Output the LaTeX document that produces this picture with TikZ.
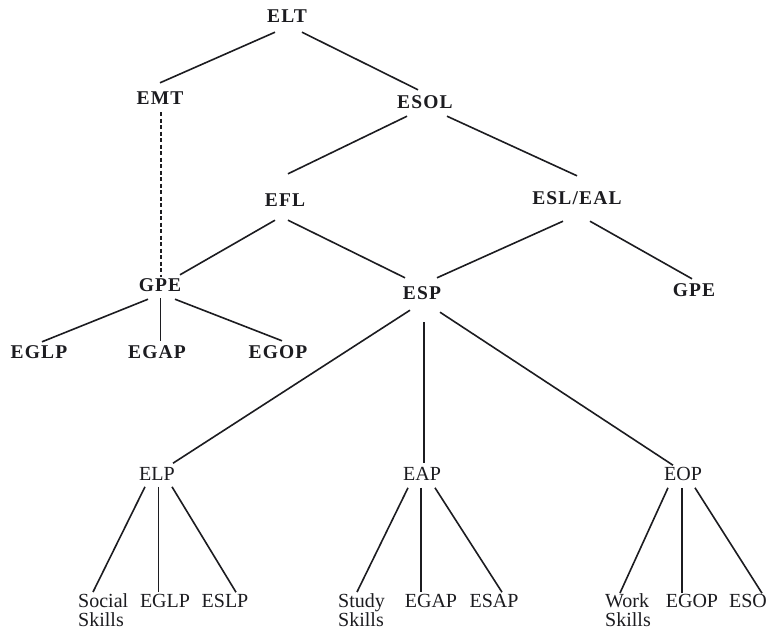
\documentclass[tikz,border=0pt]{standalone}
\usepackage{fontspec}
\setmainfont{Liberation Serif}
\newfontfamily\topfont[LetterSpace=6]{Liberation Serif}
\definecolor{ink}{RGB}{28,28,32}
\tikzset{
  topl/.style={inner sep=0pt, text height=13pt, text depth=0pt, font=\topfont\fontsize{19.5}{19.5}\selectfont\bfseries, text=ink},
  botl/.style={inner sep=0pt, text height=13.2pt, text depth=0pt, font=\fontsize{20}{20}\selectfont, text=ink},
  twol/.style={inner sep=0pt, align=left, anchor=north west, font=\fontsize{20}{19.5}\selectfont, text=ink},
  edge/.style={draw=ink, line width=1.6pt},
  thinedge/.style={draw=ink, line width=1pt},
  thickedge/.style={draw=ink, line width=2.8pt},
  dashedge/.style={draw=ink, line width=1.5pt, dash pattern=on 4pt off 2.5pt}
}
\begin{document}
\begin{tikzpicture}[x=1pt,y=-1pt]
\fill[white] (0,0) rectangle (769,633);
\useasboundingbox (0,0) rectangle (769,633);
% upper tree
\node[topl] (elt) at (287,16) {ELT};
\node[topl] (emt) at (160,98) {EMT};
\node[topl] (esol) at (425,102) {ESOL};
\node[topl] (efl) at (285,200) {EFL};
\node[topl] (esleal) at (577,198) {ESL/EAL};
\node[topl] (gpea) at (160,285) {GPE};
\node[topl] (esp) at (422,293) {ESP};
\node[topl] (gpeb) at (694,290) {GPE};
\node[topl] (eglpa) at (39,352) {EGLP};
\node[topl] (egapa) at (157,352) {EGAP};
\node[topl] (egopa) at (278,352) {EGOP};
% lower tree
\node[botl] (elp) at (157,474) {ELP};
\node[botl] (eap) at (422,474) {EAP};
\node[botl] (eop) at (683,474) {EOP};
\node[twol] (social) at (78,593) {Social\\Skills};
\node[botl] (eglpb) at (165,601) {EGLP};
\node[botl] (eslp) at (225,601) {ESLP};
\node[twol] (study) at (338,593) {Study\\Skills};
\node[botl] (egapb) at (431,601) {EGAP};
\node[botl] (esap) at (494,601) {ESAP};
\node[twol] (work) at (605,593) {Work\\Skills};
\node[botl] (egopb) at (692,601) {EGOP};
\node[botl] (eso) at (748,601) {ESO};
% connectors
\draw[edge] ([shift={(-12,9.5)}]elt.south) -- ([shift={(0,-8.5)}]emt.north);
\draw[edge] ([shift={(15,9.5)}]elt.south) -- ([shift={(-7,-5.5)}]esol.north);
\draw[dashedge] ([shift={(1,7.5)}]emt.south) -- ([shift={(1,-1.5)}]gpea.north);
\draw[edge] ([shift={(-18,7.5)}]esol.south) -- ([shift={(3,-19.5)}]efl.north);
\draw[edge] ([shift={(22,7.5)}]esol.south) -- ([shift={(0,-15.5)}]esleal.north);
\draw[edge] ([shift={(-10,13.5)}]efl.south) -- ([shift={(20,-3.5)}]gpea.north);
\draw[edge] ([shift={(3,13.5)}]efl.south) -- ([shift={(-17,-8.5)}]esp.north);
\draw[edge] ([shift={(-14,16.5)}]esleal.south) -- ([shift={(15,-8.5)}]esp.north);
\draw[edge] ([shift={(13,16.5)}]esleal.south) -- ([shift={(-2,-4.5)}]gpeb.north);
\draw[edge] ([shift={(-12,7.5)}]gpea.south) -- ([shift={(3,-3.5)}]eglpa.north);
\draw[thinedge] ([shift={(0,6.5)}]gpea.south) -- ([shift={(3,-4.5)}]egapa.north);
\draw[edge] ([shift={(15,7.5)}]gpea.south) -- ([shift={(4,-4.5)}]egopa.north);
\draw[edge] ([shift={(-12,10.5)}]esp.south) -- ([shift={(16,-4)}]elp.north);
\draw[thickedge] ([shift={(2,22.5)}]esp.south) -- ([shift={(2,-4)}]eap.north);
\draw[edge] ([shift={(18,12.5)}]esp.south) -- ([shift={(-10,-2)}]eop.north);
\draw[edge] ([shift={(-12,6)}]elp.south) -- ([shift={(15,-1)}]social.north west);
\draw[thinedge] ([shift={(1,6)}]elp.south) -- ([shift={(-7,-2)}]eglpb.north);
\draw[edge] ([shift={(15,6)}]elp.south) -- ([shift={(11,-2)}]eslp.north);
\draw[edge] ([shift={(-14,7)}]eap.south) -- ([shift={(19,-1)}]study.north west);
\draw[edge] ([shift={(-1,7)}]eap.south) -- ([shift={(-10,-2)}]egapb.north);
\draw[edge] ([shift={(13,7)}]eap.south) -- ([shift={(8,-2)}]esap.north);
\draw[edge] ([shift={(-15,7)}]eop.south) -- ([shift={(15,0)}]work.north west);
\draw[thickedge] ([shift={(-1,7)}]eop.south) -- ([shift={(-10,-1)}]egopb.north);
\draw[edge] ([shift={(12,7)}]eop.south) -- ([shift={(14,-1)}]eso.north);
\end{tikzpicture}
\end{document}
